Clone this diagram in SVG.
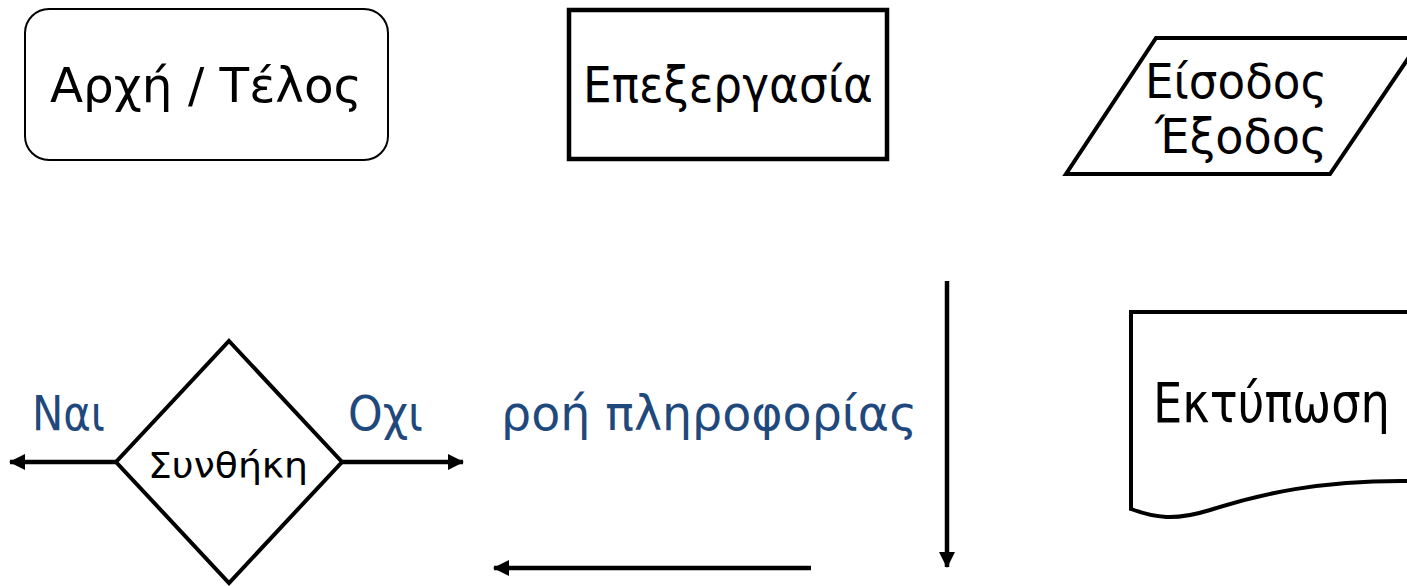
<svg xmlns="http://www.w3.org/2000/svg" width="1407" height="586" viewBox="0 0 1407 586">
  <style>
    .shape { fill: #ffffff; stroke: #000000; stroke-linejoin: miter; }
    .label { font-family: "DejaVu Sans", Verdana, sans-serif; fill: #000000; }
    .note { font-family: "DejaVu Sans", Verdana, sans-serif; fill: #1F497D; }
    .flow { stroke: #000000; stroke-width: 4.5; fill: none; }
  </style>
  <defs>
    <marker id="head" viewBox="0 0 16 16" refX="15" refY="8" markerUnits="userSpaceOnUse" markerWidth="16" markerHeight="16" orient="auto">
      <path d="M0,0 L16,8 L0,16 Z" fill="#000000"/>
    </marker>
  </defs>
  <rect width="1407" height="586" fill="#ffffff"/>

  <!-- terminator -->
  <g id="start-end">
    <rect class="shape" x="25" y="9" width="363" height="151" rx="24" ry="24" stroke-width="2"/>
    <text class="label" x="50" y="102" font-size="48" textLength="312" lengthAdjust="spacingAndGlyphs">Αρχή / Τέλος</text>
  </g>

  <!-- process box -->
  <g id="process">
    <rect class="shape" x="569" y="10" width="318" height="149" stroke-width="4.5"/>
    <text class="label" x="583" y="102" font-size="50" textLength="290" lengthAdjust="spacingAndGlyphs">Επεξεργασία</text>
  </g>

  <!-- input / output parallelogram -->
  <g id="input-output">
    <polygon class="shape" points="1156,38 1422,38 1330,174 1066,174" stroke-width="4"/>
    <text class="label" font-size="48">
      <tspan x="1145" y="98" textLength="182" lengthAdjust="spacingAndGlyphs">Είσοδος</tspan>
      <tspan x="1155" y="153" textLength="172" lengthAdjust="spacingAndGlyphs">Έξοδος</tspan>
    </text>
  </g>

  <!-- decision diamond -->
  <g id="decision">
    <polygon class="shape" points="229,341 342,462 229,583 116,462" stroke-width="4"/>
    <text class="label" x="148" y="478" font-size="36" textLength="160" lengthAdjust="spacingAndGlyphs">Συνθήκη</text>
  </g>

  <!-- document -->
  <g id="document">
    <path class="shape" d="M1131,312 L1410,312 L1410,481 C1320,480 1260,494 1210,510 C1175,521 1155,518 1131,509 Z" stroke-width="4"/>
    <text class="label" x="1153" y="422" font-size="56" textLength="237" lengthAdjust="spacingAndGlyphs">Εκτύπωση</text>
  </g>

  <!-- flow labels -->
  <g id="labels">
    <text class="note" x="32" y="430" font-size="48" textLength="73" lengthAdjust="spacingAndGlyphs">Ναι</text>
    <text class="note" x="348" y="430" font-size="48" textLength="75" lengthAdjust="spacingAndGlyphs">Οχι</text>
    <text class="note" x="501" y="430" font-size="48" textLength="416" lengthAdjust="spacingAndGlyphs">ροή πληροφορίας</text>
  </g>

  <!-- connectors -->
  <g id="connectors">
    <line class="flow" x1="116" y1="462" x2="10" y2="462" marker-end="url(#head)"/>
    <line class="flow" x1="342" y1="462" x2="463" y2="462" marker-end="url(#head)"/>
    <line class="flow" x1="947" y1="281" x2="947" y2="567" marker-end="url(#head)"/>
    <line class="flow" x1="811" y1="568" x2="494" y2="568" marker-end="url(#head)"/>
  </g>
</svg>
